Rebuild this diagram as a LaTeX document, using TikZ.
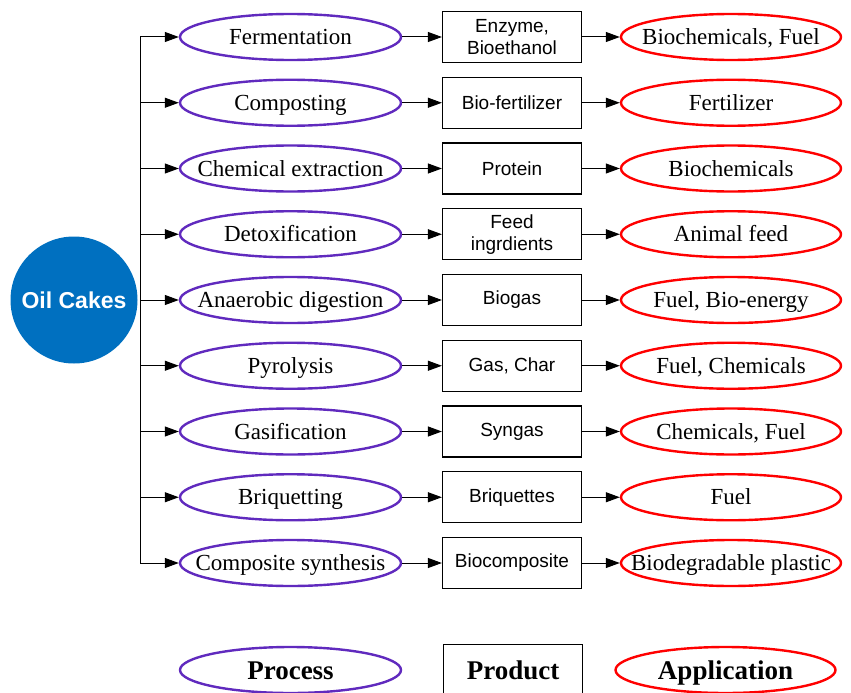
\documentclass[tikz,border=0pt]{standalone}
\usepackage{fontspec}
\setmainfont{Liberation Serif}
\setsansfont{Liberation Sans}
\usetikzlibrary{shapes.geometric,arrows.meta}
\definecolor{procviolet}{RGB}{96,42,190}
\definecolor{cakeblue}{RGB}{0,112,192}
\newcommand{\nowidth}[1]{\makebox[0pt][c]{#1}}
\tikzset{
  process/.style={ellipse,draw=procviolet,line width=2.4pt,minimum width=221pt,minimum height=46pt,inner sep=0pt,text height=20pt,text depth=5pt,font=\fontsize{23}{26}\selectfont},
  application/.style={ellipse,draw=red,line width=2.4pt,minimum width=220pt,minimum height=46pt,inner sep=0pt,text height=20pt,text depth=5pt,font=\fontsize{23}{26}\selectfont},
  product/.style={rectangle,draw,line width=1.2pt,minimum width=139pt,minimum height=51pt,inner sep=0pt,align=center,font=\sffamily\fontsize{19}{22}\selectfont},
  flow/.style={-{Triangle[length=14pt,width=10pt]},line width=1pt},
  legend/.style={font=\bfseries\fontsize{27}{30}\selectfont,text height=23pt,text depth=5pt}
}
\begin{document}
\begin{tikzpicture}[x=1pt,y=-1pt]
\useasboundingbox (0,0) rectangle (851,693);
% source
\node[circle,fill=cakeblue,minimum size=127pt,inner sep=0pt,text=white,font=\sffamily\bfseries\fontsize{23}{26}\selectfont] (cakes) at (74,300) {Oil Cakes};
% rows: process -> product -> application
\foreach \proc/\prod/\app [count=\i] in {
  {Fermentation}/{Enzyme,\\Bioethanol}/{Biochemicals, Fuel},
  {Composting}/{Bio-fertilizer}/{Fertilizer},
  {Chemical extraction}/{Protein}/{Biochemicals},
  {Detoxification}/{Feed\\ingrdients}/{Animal feed},
  {Anaerobic digestion}/{Biogas}/{Fuel, Bio-energy},
  {Pyrolysis}/{Gas, Char}/{Fuel, Chemicals},
  {Gasification}/{Syngas}/{Chemicals, Fuel},
  {Briquetting}/{Briquettes}/{Fuel},
  {Composite synthesis}/{Biocomposite}/{Biodegradable plastic}}
{
  \pgfmathsetmacro\y{37+(\i-1)*65.75}
  \coordinate (trunk\i) at (140,\y);
  \node[process] (p\i) at (290.5,\y) {\nowidth{\proc}};
  \node[product] (b\i) at (512,\y) {\prod};
  \node[application] (a\i) at (731,\y) {\nowidth{\app}};
  \draw[flow] (trunk\i) -- (p\i);
  \draw[flow] (p\i) -- (b\i);
  \draw[flow] (b\i) -- (a\i);
}
\draw[line width=1pt] (trunk1) -- (trunk9);
% legend
\node[process,legend] (legproc) at (290.5,670) {\nowidth{Process}};
\node[product,legend] (legprod) at (513,670) {Product};
\node[application,legend] (legapp) at (725.5,670) {\nowidth{Application}};
\end{tikzpicture}
\end{document}
